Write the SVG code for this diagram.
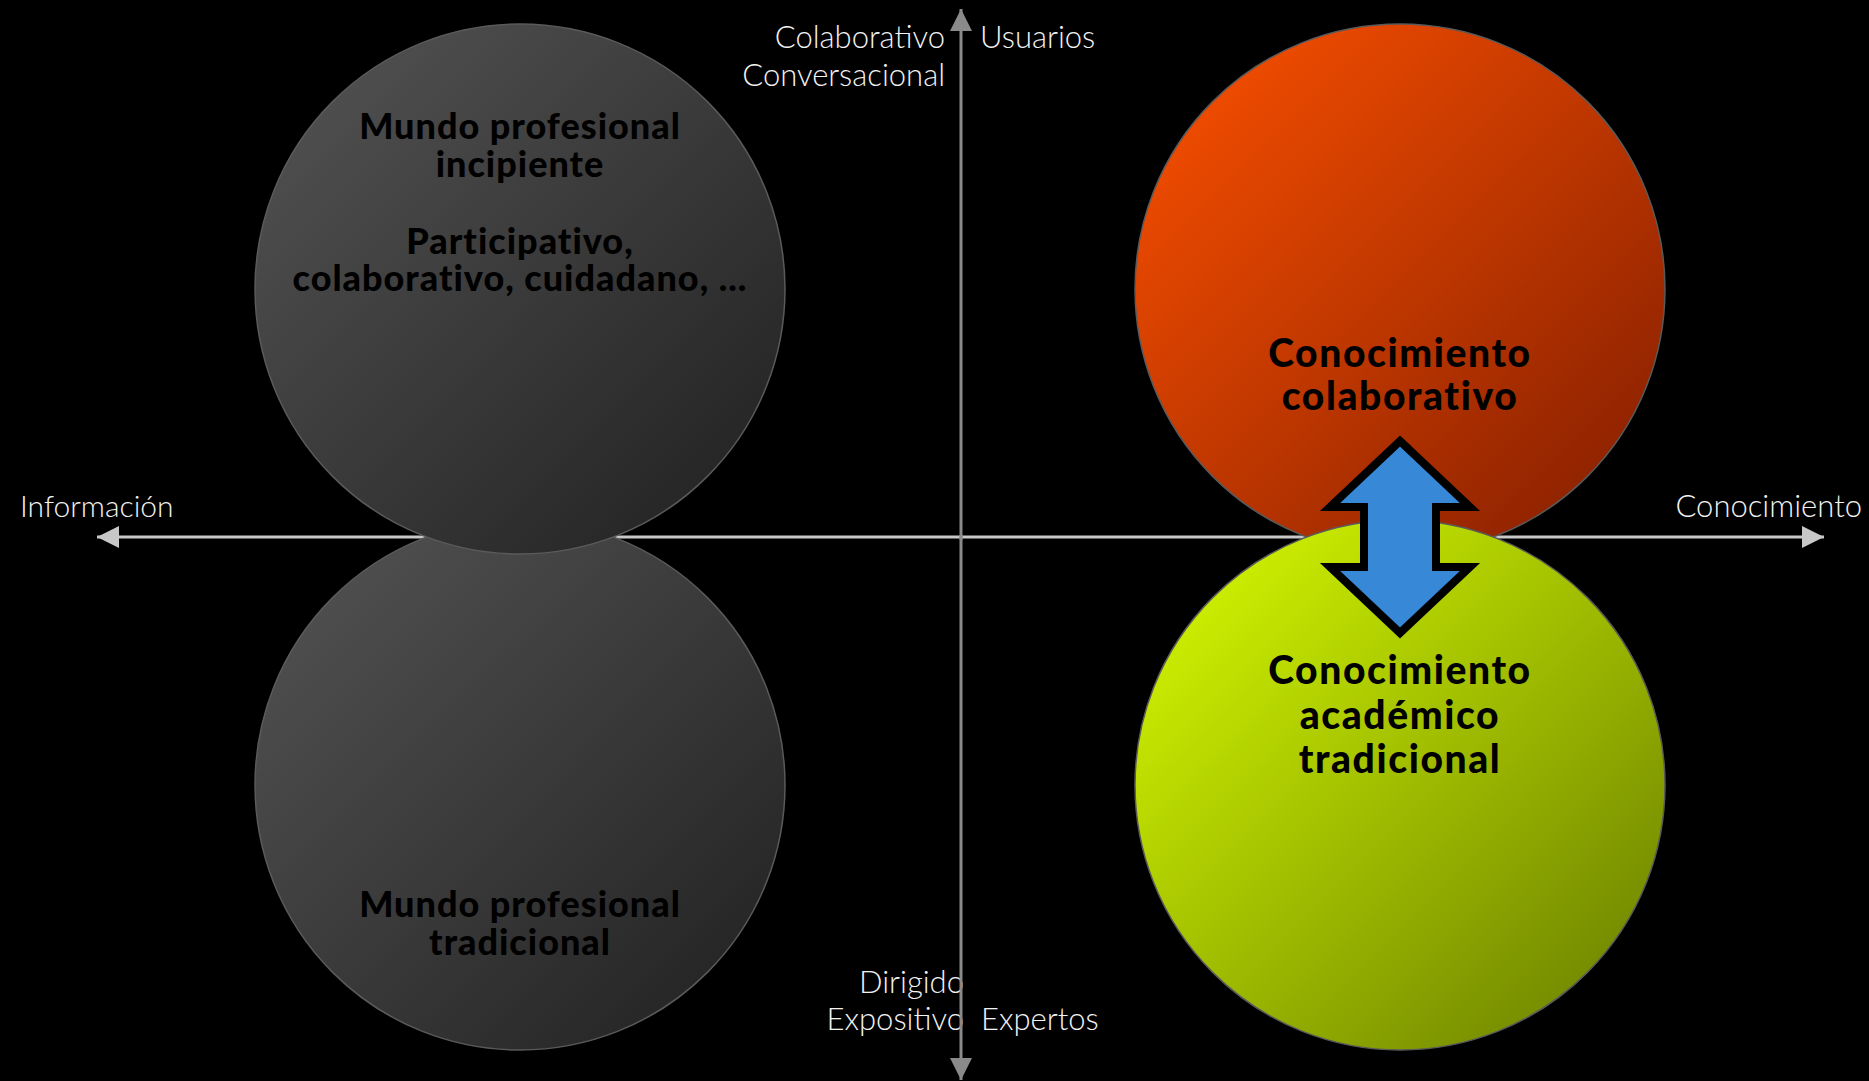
<svg xmlns="http://www.w3.org/2000/svg" width="1869" height="1081" viewBox="0 0 1869 1081">
<defs>
<style>
.lbl{font-family:Lato,"Liberation Sans",sans-serif;font-weight:300;font-size:31px;fill:#f2f2f2}
.bt{font-family:Lato,"Liberation Sans",sans-serif;font-weight:900;fill:#000;text-anchor:middle}
.g{font-size:36px;letter-spacing:1px}
.c{font-size:39px;letter-spacing:1.6px}
.circ{stroke:#5a5a5a;stroke-width:1.5}
</style>
<linearGradient id="gGray" x1="0" y1="0" x2="1" y2="1">
<stop offset="0" stop-color="#555555"/>
<stop offset="1" stop-color="#1f1f1f"/>
</linearGradient>
<linearGradient id="gRed" x1="0" y1="0" x2="1" y2="1">
<stop offset="0" stop-color="#ff5200"/>
<stop offset="1" stop-color="#7f1c00"/>
</linearGradient>
<linearGradient id="gYel" x1="0" y1="0" x2="1" y2="1">
<stop offset="0" stop-color="#daff00"/>
<stop offset="1" stop-color="#667a00"/>
</linearGradient>
<marker id="ahL" markerWidth="22" markerHeight="22" refX="22" refY="11" orient="auto" markerUnits="userSpaceOnUse">
<path d="M0,0 L22,11 L0,22 Z" fill="#c8c8c8"/>
</marker>
<marker id="ahD" markerWidth="22" markerHeight="22" refX="22" refY="11" orient="auto" markerUnits="userSpaceOnUse">
<path d="M0,0 L22,11 L0,22 Z" fill="#8a8a8a"/>
</marker>
</defs>
<rect width="1869" height="1081" fill="#000"/>
<g id="labels">
<text class="lbl" x="945" y="48" text-anchor="end">Colaborativo</text>
<text class="lbl" x="945" y="86" text-anchor="end">Conversacional</text>
<text class="lbl" x="980" y="48">Usuarios</text>
<text class="lbl" x="20" y="517" style="font-size:30px">Información</text>
<text class="lbl" x="1862" y="517" text-anchor="end">Conocimiento</text>
<text class="lbl" x="964" y="993" text-anchor="end">Dirigido</text>
<text class="lbl" x="964" y="1030" text-anchor="end">Expositivo</text>
<text class="lbl" x="981" y="1030">Expertos</text>
</g>
<g id="connectors">
<line x1="960" y1="537" x2="97" y2="537" stroke="#c8c8c8" stroke-width="3" marker-end="url(#ahL)"/>
<line x1="960" y1="537" x2="1824" y2="537" stroke="#c8c8c8" stroke-width="3" marker-end="url(#ahL)"/>
<line x1="961" y1="540" x2="961" y2="9" stroke="#8a8a8a" stroke-width="3" marker-end="url(#ahD)"/>
<line x1="961" y1="535" x2="961" y2="1080" stroke="#8a8a8a" stroke-width="3" marker-end="url(#ahD)"/>
</g>
<g id="n-tradicional">
<circle class="circ" cx="520" cy="785" r="265" fill="url(#gGray)"/>
<text class="bt g" x="520" y="917">Mundo profesional</text>
<text class="bt g" x="520" y="955">tradicional</text>
</g>
<g id="n-incipiente">
<circle class="circ" cx="520" cy="289" r="265" fill="url(#gGray)"/>
<text class="bt g" x="520" y="139">Mundo profesional</text>
<text class="bt g" x="520" y="177">incipiente</text>
<text class="bt g" x="520" y="254">Participativo,</text>
<text class="bt g" x="520" y="291">colaborativo, cuidadano, ...</text>
</g>
<g id="n-colaborativo">
<circle class="circ" cx="1400" cy="289" r="265" fill="url(#gRed)"/>
<text class="bt c" x="1400" y="367">Conocimiento</text>
<text class="bt c" x="1400" y="410">colaborativo</text>
</g>
<g id="n-academico">
<circle class="circ" cx="1400" cy="785" r="265" fill="url(#gYel)"/>
<text class="bt c" x="1400" y="684">Conocimiento</text>
<text class="bt c" x="1400" y="729">académico</text>
<text class="bt c" x="1400" y="773">tradicional</text>
</g>
<g id="n-doublearrow">
<path d="M1400,441 L1470,507 L1436,507 L1436,567 L1470,567 L1400,633 L1330,567 L1364,567 L1364,507 L1330,507 Z" fill="#3788d6" stroke="#000" stroke-width="8" stroke-linejoin="miter" stroke-miterlimit="10"/>
</g>
</svg>
